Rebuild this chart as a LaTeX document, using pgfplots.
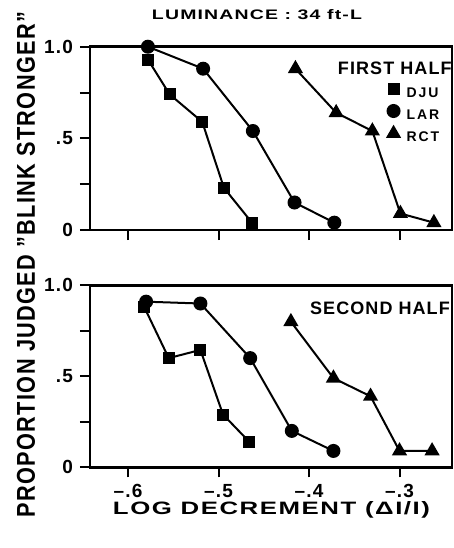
\documentclass[border=0pt]{standalone}
\usepackage{fontspec}
\setmainfont{Liberation Sans}[LetterSpace=6]
\newfontfamily\wide{Liberation Sans}[LetterSpace=14]
\usepackage{graphicx}
\usepackage{pgfplots}
\pgfplotsset{compat=1.18}

\pgfplotsset{
 blink/.style={
  scale only axis,width=181pt,
  xmin=-0.642,xmax=-0.242,ymin=0,ymax=1,
  clip=false,axis line style={line width=1.3pt},
  tick align=outside,xtick pos=bottom,ytick pos=left,
  major tick length=5pt,tick style={line width=1pt,black},
  xtick={-0.6,-0.5,-0.4,-0.3},ytick={0,0.25,0.5,0.75,1},
  yticklabels={0,,.5,,1.0},
  tick label style={font=\fontsize{9.5}{9.5}\selectfont\bfseries},
  every axis plot/.append style={black,line width=1pt},
 },
 dju/.style={mark=square*,mark size=2.5pt,mark options={solid,fill=black}},
 lar/.style={mark=*,mark size=3pt,mark options={solid,fill=black}},
 rct/.style={mark=triangle*,mark size=3.4pt,mark options={solid,fill=black}},
}

\begin{document}
\bfseries
\begin{tikzpicture}
\path[use as bounding box] (0,0) rectangle (227pt,-274pt);

% first half
\begin{axis}[blink,height=91.65pt,at={(45pt,-23.35pt)},anchor=north west,
 xticklabels={},
 legend style={draw=none,fill=none,at={(0.822,0.795)},anchor=north west,
  inner sep=0pt,outer sep=0pt,row sep=2.2pt,column sep=3.5pt,
  font=\fontsize{7}{7}\selectfont\wide\bfseries,
  nodes={inner sep=0pt}},
 legend cell align=left,
 legend image code/.code={\draw[#1] plot coordinates {(0pt,2.5pt)};}]
\addplot[dju,forget plot] coordinates {(-0.578,0.93) (-0.554,0.74) (-0.518,0.59) (-0.494,0.23) (-0.463,0.04)};
\addplot[lar,forget plot] coordinates {(-0.578,1.0) (-0.517,0.88) (-0.462,0.54) (-0.416,0.15) (-0.372,0.04)};
\addplot[rct,forget plot] coordinates {(-0.415,0.88) (-0.370,0.64) (-0.330,0.54) (-0.299,0.09) (-0.262,0.04)};
\addlegendimage{only marks,dju}
\addlegendimage{only marks,lar}
\addlegendimage{only marks,rct}
\legend{DJU,LAR,RCT}
\node[font=\fontsize{9}{9}\selectfont\bfseries] at (rel axis cs:0.842,0.884) {FIRST HALF};
\end{axis}

% second half
\begin{axis}[blink,height=91pt,at={(45pt,-142.65pt)},anchor=north west,
 xticklabels={–.6,–.5,–.4,–.3}]
\addplot[dju] coordinates {(-0.582,0.88) (-0.555,0.60) (-0.520,0.645) (-0.495,0.29) (-0.466,0.14)};
\addplot[lar] coordinates {(-0.580,0.91) (-0.520,0.90) (-0.465,0.60) (-0.419,0.20) (-0.373,0.09)};
\addplot[rct] coordinates {(-0.420,0.80) (-0.373,0.49) (-0.332,0.39) (-0.300,0.09) (-0.264,0.09)};
\node[font=\fontsize{9}{9}\selectfont\bfseries] at (rel axis cs:0.801,0.874) {SECOND HALF};
\end{axis}

% title and axis labels
\node at (128.5pt,-7.5pt) {\resizebox{105pt}{5pt}{LUMINANCE : 34 ft-L}};
\node at (135.75pt,-255pt) {\resizebox{158.5pt}{6.5pt}{LOG DECREMENT (ΔI/I)}};
\node[rotate=90] at (13pt,-132.25pt) {\resizebox{252.5pt}{9pt}{PROPORTION JUDGED "BLINK STRONGER"}};
\end{tikzpicture}
\end{document}
